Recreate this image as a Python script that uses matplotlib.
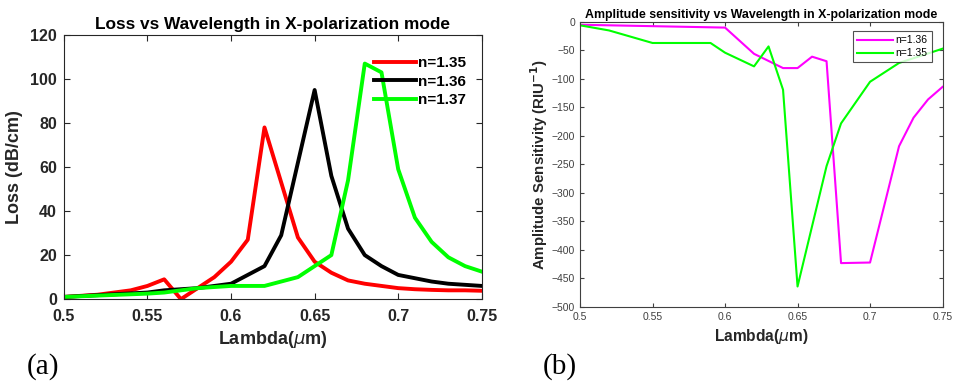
import numpy as np
import matplotlib.pyplot as plt

plt.rcParams['font.family'] = ['Liberation Sans', 'DejaVu Sans']
plt.rcParams['mathtext.fontset'] = 'dejavusans'

# (a) loss vs wavelength
lam = [0.50, 0.51, 0.52, 0.53, 0.54, 0.55, 0.56, 0.57, 0.58, 0.59, 0.60, 0.61, 0.62,
       0.63, 0.64, 0.65, 0.66, 0.67, 0.68, 0.69, 0.70, 0.71, 0.72, 0.73, 0.74, 0.75]
loss_135 = [1, 1.5, 2, 3, 4, 6, 9, 0, 5, 10, 17, 27, 78,
            53, 28, 17, 12, 8.5, 7, 6, 5, 4.5, 4.2, 4, 4, 3.8]
loss_136 = [1, 1.4, 1.8, 2.2, 2.6, 3, 4, 4.5, 5, 6, 7, 11, 15,
            29, 62, 95, 56, 32, 20, 15, 11, 9.5, 8, 7, 6.5, 6]
loss_137 = [1, 1.3, 1.6, 1.9, 2.2, 2.5, 3, 4, 5, 5.5, 6, 6, 6,
            8, 10, 15, 20, 54, 107, 103, 59, 37, 26, 19, 15, 12.5]

# (b) amplitude sensitivity
lam_s136 = [0.50, 0.60, 0.62, 0.64, 0.65, 0.66, 0.67, 0.68, 0.70, 0.72, 0.73, 0.74, 0.75]
sens_136 = [-5, -10, -56, -81, -81, -61, -69, -423, -422, -218, -168, -136, -114]
lam_s135 = [0.50, 0.52, 0.55, 0.59, 0.60, 0.62, 0.63, 0.64, 0.65, 0.67, 0.68, 0.70, 0.72, 0.75]
sens_135 = [-6, -15, -37, -37, -54, -78, -43, -119, -464, -253, -178, -105, -72, -47]

xticks = [0.5, 0.55, 0.6, 0.65, 0.7, 0.75]
xticklabels = ['0.5', '0.55', '0.6', '0.65', '0.7', '0.75']

fig = plt.figure(figsize=(9.54, 3.84), dpi=100)
axc = '#262626'

# ---- panel (a)
ax1 = fig.add_axes([0.067, 0.221, 0.438, 0.688])
ax1.plot(lam, loss_135, color='#ff0000', lw=2.8, label='n=1.35')
ax1.plot(lam, loss_136, color='#000000', lw=2.8, label='n=1.36')
ax1.plot(lam, loss_137, color='#00ff00', lw=2.8, label='n=1.37')
ax1.set_xlim(0.5, 0.75)
ax1.set_ylim(0, 120)
ax1.set_xticks(xticks)
ax1.set_xticklabels(xticklabels)
ax1.set_yticks(np.arange(0, 121, 20))
ax1.tick_params(direction='in', top=True, right=True, labelsize=11.5, colors=axc, length=4)
ax1.tick_params(axis='x', pad=7)
ax1.tick_params(axis='y', pad=5)
for lab in ax1.get_xticklabels() + ax1.get_yticklabels():
    lab.set_fontweight('bold')
for s in ax1.spines.values():
    s.set_color(axc)
    s.set_linewidth(0.8)
ax1.set_title('Loss vs Wavelength in X-polarization mode', fontsize=12.4, fontweight='bold', pad=4)
ax1.set_xlabel(r'Lambda($\mu$m)', fontsize=13, fontweight='bold', color=axc, labelpad=4)
ax1.set_ylabel('Loss (dB/cm)', fontsize=13, fontweight='bold', color=axc, labelpad=5)
leg1 = ax1.legend(loc='upper right', bbox_to_anchor=(0.962, 0.92), frameon=False,
                  prop={'weight': 'bold', 'size': 11}, handlelength=2.7,
                  handletextpad=0.15, labelspacing=0.3, borderpad=0, borderaxespad=0)

# ---- panel (b)
ax2 = fig.add_axes([0.608, 0.2005, 0.38, 0.7425])
ax2.plot(lam_s136, sens_136, color='#ff00ff', lw=1.5, label='n=1.36')
ax2.plot(lam_s135, sens_135, color='#00ff00', lw=1.5, label='n=1.35')
ax2.set_xlim(0.5, 0.75)
ax2.set_ylim(-500, 0)
ax2.set_xticks(xticks)
ax2.set_xticklabels(xticklabels)
ax2.set_yticks(np.arange(-500, 1, 50))
ax2.tick_params(direction='in', top=True, right=True, labelsize=7.5, colors='#404040', length=3)
for s in ax2.spines.values():
    s.set_color('#404040')
    s.set_linewidth(0.8)
ax2.set_title('Amplitude sensitivity vs Wavelength in X-polarization mode',
              fontsize=8.9, fontweight='bold', pad=3)
ax2.set_xlabel(r'Lambda($\mu$m)', fontsize=11.2, fontweight='bold', color=axc, labelpad=4)
ax2.set_ylabel(r'Amplitude Sensitivity (RIU$^{\mathbf{-1}}$)', fontsize=10.8,
               fontweight='bold', color=axc, labelpad=1)
leg2 = ax2.legend(loc='upper right', bbox_to_anchor=(0.97, 0.968), fancybox=False,
                  edgecolor='#262626', prop={'size': 7.5}, handlelength=3.5,
                  handletextpad=0.2, labelspacing=0.3, borderpad=0.4, borderaxespad=0)
leg2.get_frame().set_linewidth(0.8)

# panel letters
fig.text(0.028, 0.028, '(a)', family='Liberation Serif', fontsize=21, color='black', va='baseline')
fig.text(0.569, 0.028, '(b)', family='Liberation Serif', fontsize=21, color='black', va='baseline')

fig.savefig('out.png', dpi=100)
